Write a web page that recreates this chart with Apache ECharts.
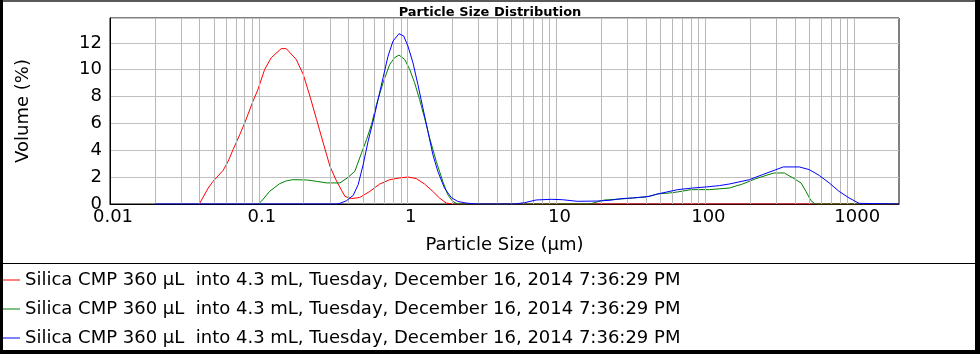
<!DOCTYPE html>
<html><head><meta charset="utf-8">
<script src="https://cdn.jsdelivr.net/npm/echarts@6/dist/echarts.min.js"></script>
<style>html,body{margin:0;padding:0;background:#fff}#c{width:980px;height:354px}</style>
</head><body><div id="c"></div>
<script>
const chartTitle = 'Particle Size Distribution';
const xAxisTitle = 'Particle Size (\u00b5m)';
const yAxisTitle = 'Volume (%)';
const legendLabel = 'Silica CMP 360 \u00b5L  into 4.3 mL, Tuesday, December 16, 2014 7:36:29 PM';
const xTickLabels = ['0.01', '0.1', '1', '10', '100', '1000'];
const yTickLabels = ['0', '2', '4', '6', '8', '10', '12'];

const redSize = [0.0398, 0.0457, 0.0493, 0.0576, 0.0622, 0.0671, 0.0745, 0.0804, 0.0914, 0.0987, 0.1094, 0.1213, 0.1415, 0.1528, 0.1782,
  0.1987, 0.2204, 0.2443, 0.2708, 0.3004, 0.3332, 0.3787, 0.4199, 0.4772, 0.5566, 0.6493, 0.7576, 0.8837, 1.004, 1.143, 1.298, 1.476, 1.636, 1.814, 2.008, 2000];
const redVolume = [0, 1.19, 1.69, 2.51, 3.18, 4.05, 5.17, 6.04, 7.66, 8.53, 10.02, 10.9, 11.57, 11.57, 10.77,
  9.65, 8.03, 6.29, 4.55, 2.81, 1.69, 0.57, 0.40, 0.49, 0.94, 1.49, 1.81, 1.94, 2.01, 1.89, 1.49, 0.94, 0.45, 0.07, 0, 0];

const greenSize = [0.0987, 0.1039, 0.1181, 0.1378, 0.1528, 0.1692, 0.2093, 0.2443, 0.2851, 0.3507, 0.3985, 0.4418, 0.4900, 0.5294, 0.5714, 0.6171,
  0.6833, 0.7576, 0.8181, 0.8741, 0.9542, 1.031, 1.113, 1.202, 1.298, 1.403, 1.555, 1.721, 1.859, 2.008, 2.169,
  16.7, 21.0, 27.2, 32.4, 40.0, 47.9, 57.4, 65.3, 80.3, 106.5, 145, 178, 219, 256, 290, 339, 395, 439, 474, 512, 547, 2000];
const greenVolume = [0, 0.19, 0.94, 1.51, 1.72, 1.81, 1.79, 1.69, 1.57, 1.57, 1.99, 2.44, 3.81, 4.8, 5.92, 7.41,
  9.03, 10.4, 10.9, 11.09, 10.77, 10.02, 9.03, 7.78, 6.42, 4.93, 3.18, 1.69, 0.69, 0.19, 0,
  0, 0.3, 0.37, 0.45, 0.52, 0.75, 0.82, 0.9, 1.07, 1.07, 1.19, 1.49, 1.89, 2.13, 2.31, 2.31, 1.89, 1.57, 0.94, 0.25, 0, 0];

const blueSize = [0.02, 0.3332, 0.3507, 0.3889, 0.4304, 0.4649, 0.5021, 0.5422, 0.5857, 0.6326, 0.6833, 0.738, 0.797, 0.8741, 0.9399, 1.004,
  1.085, 1.171, 1.265, 1.367, 1.476, 1.594, 1.767, 1.959, 2.169, 2.47, 2.88,
  5.23, 6.1, 7.3, 9.2, 10.95, 13.8, 18.6, 22.7, 27.2, 32.5, 42.1, 47.9, 65.3, 82.2, 101.2, 124.3, 145, 197.5, 242.6, 290.5, 334, 427.5,
  498.7, 582, 679, 792, 924, 1078, 1110, 2000];
const blueVolume = [0, 0, 0.05, 0.25, 0.64, 1.44, 2.93, 4.67, 6.16, 7.78, 9.4, 11.01, 12.13, 12.68, 12.51, 11.76,
  10.52, 8.9, 7.16, 5.42, 3.68, 2.43, 1.19, 0.49, 0.19, 0.07, 0,
  0, 0.1, 0.3, 0.35, 0.32, 0.2, 0.22, 0.27, 0.4, 0.45, 0.57, 0.75, 1.07, 1.19, 1.27, 1.37, 1.49, 1.81, 2.19, 2.51, 2.76, 2.76,
  2.56, 2.13, 1.57, 0.94, 0.45, 0.05, 0, 0];

const FONT = '"DejaVu Sans", sans-serif';
const zip = (xs, ys) => xs.map((x, i) => [x, ys[i]]);

// vertical grid line positions (log axis 1..9 x 10^k)
const vGrid = [];
for (let e = -2; e <= 3; e++) {
  for (let m = 1; m <= 9; m++) {
    const v = +(m * Math.pow(10, e)).toPrecision(3);
    if (v > 0.01 && v < 2000) vGrid.push({ xAxis: v });
  }
}

const names = [legendLabel, legendLabel + ' ', legendLabel + '  '];
const colors = ['#ff0000', '#008000', '#0000ff'];
const dataSets = [zip(redSize, redVolume), zip(greenSize, greenVolume), zip(blueSize, blueVolume)];

const chart = echarts.init(document.getElementById('c'), null, { renderer: 'canvas' });
chart.setOption({
  animation: false,
  backgroundColor: '#fff',
  textStyle: { fontFamily: FONT },
  title: {
    text: chartTitle, left: 'center', top: 6, padding: 0,
    textStyle: { fontFamily: FONT, fontSize: 13, fontWeight: 'bold', color: '#000' }
  },
  grid: { left: 110, right: 81, top: 18, bottom: 150, show: true, borderColor: '#000', borderWidth: 1, backgroundColor: 'transparent' },
  legend: {
    data: names, orient: 'vertical', left: 0, top: 271, padding: 0,
    icon: 'rect', itemWidth: 20, itemHeight: 1, itemGap: 11, selectedMode: false,
    textStyle: { fontFamily: FONT, fontSize: 18, lineHeight: 18, color: '#000' }
  },
  xAxis: {
    type: 'log', logBase: 10, min: 0.01, max: 2000, splitNumber: 5,
    name: xAxisTitle, nameLocation: 'middle', nameGap: 32,
    nameTextStyle: { fontFamily: FONT, fontSize: 18, color: '#000' },
    axisLine: { show: true, lineStyle: { color: '#000', width: 1 } },
    axisTick: { show: false },
    splitLine: { show: false },
    axisLabel: {
      fontFamily: FONT, fontSize: 18, color: '#000', margin: 4, padding: [0, 0, 0, 6],
      showMaxLabel: false,
      formatter: function (v) {
        const e = Math.log10(v);
        const r = Math.round(e);
        if (Math.abs(e - r) < 1e-6 && r >= -2 && r <= 3) return xTickLabels[r + 2];
        return '';
      }
    }
  },
  yAxis: {
    type: 'value', min: 0, max: 13.85, interval: 2,
    name: yAxisTitle, nameLocation: 'middle', nameGap: 78, nameRotate: 90,
    nameTextStyle: { fontFamily: FONT, fontSize: 18, color: '#000' },
    axisLine: { show: true, lineStyle: { color: '#000', width: 1 } },
    axisTick: { show: false },
    splitLine: { show: true, lineStyle: { color: '#c0c0c0', width: 1 } },
    axisLabel: {
      fontFamily: FONT, fontSize: 18, color: '#000', margin: 8,
      formatter: function (v) {
        const i = Math.round(v / 2);
        if (Math.abs(v - i * 2) < 1e-6 && i < yTickLabels.length) return yTickLabels[i];
        return '';
      }
    }
  },
  series: [
    {
      type: 'line', name: '__grid', data: [], z: 1, silent: true,
      markLine: {
        silent: true, symbol: ['none', 'none'], animation: false,
        label: { show: false },
        lineStyle: { color: '#b8b8b8', width: 1, type: 'solid' },
        emphasis: { disabled: true },
        data: vGrid
      }
    }
  ].concat(dataSets.map((d, i) => ({
    type: 'line', name: names[i], data: d, z: 3 + i,
    symbol: 'none', showSymbol: false, smooth: false,
    color: colors[i],
    itemStyle: { color: colors[i] },
    lineStyle: { color: colors[i], width: 1 },
    emphasis: { disabled: true }
  }))),
  graphic: [
    { type: 'rect', shape: { x: 0, y: 0, width: 980, height: 2 }, style: { fill: '#5a5a5a' }, z: 100 },
    { type: 'rect', shape: { x: 0, y: 0, width: 3, height: 354 }, style: { fill: '#000' }, z: 100 },
    { type: 'rect', shape: { x: 975, y: 0, width: 5, height: 354 }, style: { fill: '#000' }, z: 100 },
    { type: 'rect', shape: { x: 0, y: 350, width: 980, height: 4 }, style: { fill: '#000' }, z: 100 },
    { type: 'rect', shape: { x: 0, y: 263, width: 975, height: 1 }, style: { fill: '#000' }, z: 100 }
  ]
});
</script>
</body></html>
